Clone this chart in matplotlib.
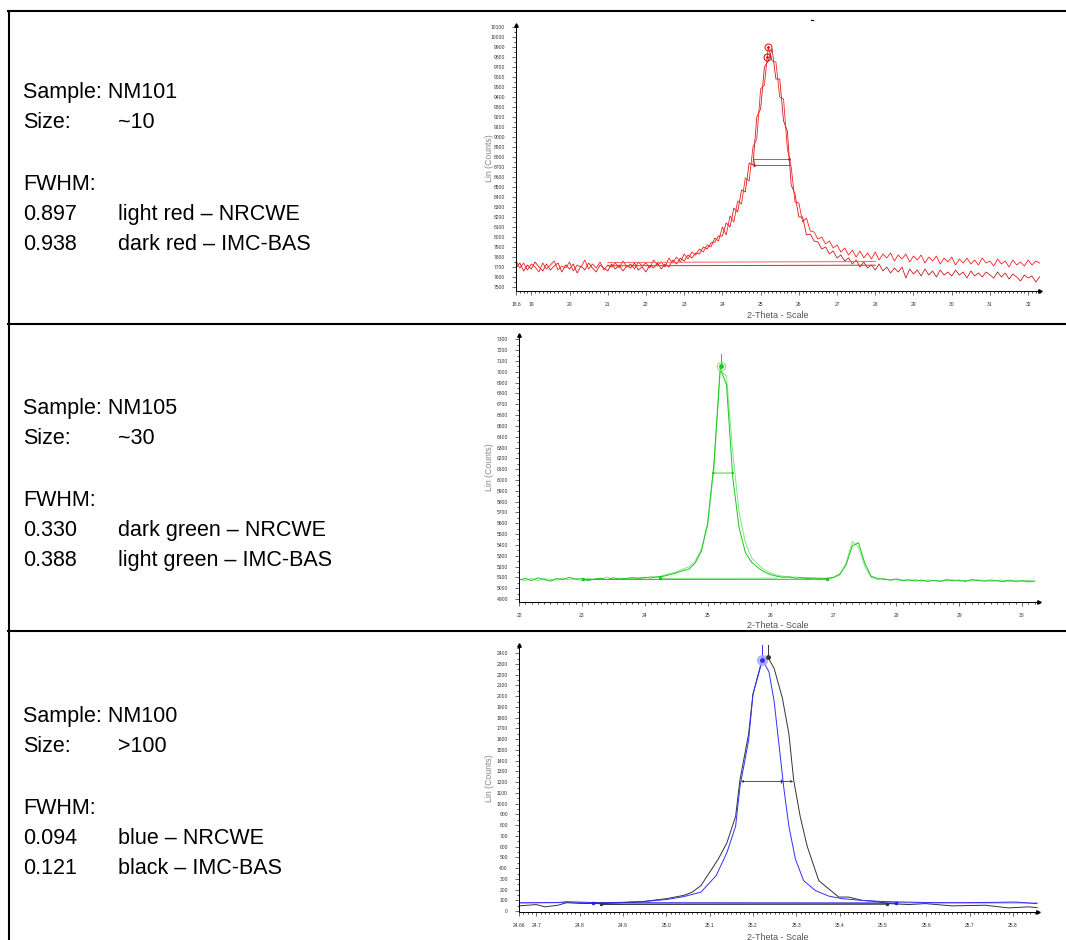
import numpy as np
import matplotlib
matplotlib.use('Agg')
import matplotlib.pyplot as plt
from matplotlib.ticker import MultipleLocator, FixedLocator

plt.rcParams['font.family'] = ['Liberation Sans', 'DejaVu Sans']

# ---- table text ----
samples = ['NM101', 'NM105', 'NM100']
sizes = ['~10', '~30', '>100']
fwhm_vals = [['0.897', '0.938'], ['0.330', '0.388'], ['0.094', '0.121']]
fwhm_desc = [['light red \u2013 NRCWE', 'dark red \u2013 IMC-BAS'],
             ['dark green \u2013 NRCWE', 'light green \u2013 IMC-BAS'],
             ['blue \u2013 NRCWE', 'black \u2013 IMC-BAS']]

# ---- NM101 (red), 2-theta 18.6 .. 32.3 step 0.1 ----
red_light = [7760, 7690, 7740, 7670, 7730, 7700, 7650, 7740, 7680, 7720,
             7760, 7670, 7710, 7690, 7750, 7660, 7720, 7700, 7770, 7680,
             7730, 7690, 7750, 7670, 7720, 7700, 7740, 7690, 7760, 7700,
             7730, 7680, 7750, 7710, 7740, 7690, 7770, 7720, 7750, 7700,
             7790, 7740, 7800, 7750, 7830, 7780, 7850, 7820, 7880, 7850,
             7920, 7900, 7990, 7960, 8100, 8020, 8210, 8150, 8360, 8330,
             8590, 8560, 8900, 8980, 9480, 9520, 9900, 9760, 9750, 9400,
             9380, 8880, 8700, 8350, 8340, 8150, 8190, 8060, 8050, 7980,
             8000, 7930, 7960, 7890, 7920, 7850, 7890, 7820, 7870, 7800,
             7860, 7790, 7840, 7780, 7850, 7770, 7830, 7790, 7840, 7760,
             7820, 7780, 7830, 7750, 7810, 7770, 7820, 7740, 7800, 7760,
             7810, 7730, 7790, 7750, 7800, 7720, 7780, 7740, 7790, 7730,
             7770, 7720, 7790, 7740, 7760, 7710, 7780, 7730, 7760, 7700,
             7770, 7720, 7750, 7710, 7770, 7720, 7760, 7740]
red_dark = [7690, 7740, 7660, 7720, 7680, 7750, 7700, 7660, 7730, 7670,
            7710, 7740, 7650, 7720, 7680, 7730, 7640, 7710, 7670, 7740,
            7690, 7650, 7720, 7690, 7660, 7730, 7680, 7720, 7660, 7710,
            7690, 7740, 7670, 7700, 7650, 7720, 7690, 7740, 7680, 7730,
            7700, 7770, 7730, 7790, 7760, 7820, 7790, 7840, 7830, 7900,
            7880, 7940, 7950, 8010, 8010, 8140, 8100, 8290, 8250, 8470,
            8450, 8740, 8720, 9200, 9280, 9700, 9760, 9880, 9580, 9580,
            9160, 9060, 8520, 8430, 8200, 8200, 8020, 8030, 7960, 7950,
            7880, 7900, 7830, 7860, 7790, 7820, 7760, 7790, 7730, 7770,
            7700, 7750, 7690, 7720, 7670, 7730, 7660, 7700, 7640, 7690,
            7650, 7700, 7590, 7680, 7630, 7670, 7610, 7680, 7620, 7660,
            7600, 7670, 7620, 7650, 7610, 7670, 7620, 7650, 7590, 7660,
            7610, 7640, 7600, 7650, 7620, 7590, 7650, 7600, 7640, 7580,
            7630, 7600, 7560, 7620, 7590, 7610, 7550, 7600]

# ---- NM105 (green), 2-theta 22.0 .. 30.2 step 0.1 ----
green_dark = [5075, 5090, 5070, 5095, 5080, 5065, 5090, 5078, 5100, 5082,
              5088, 5070, 5085, 5092, 5078, 5096, 5084, 5090, 5098, 5086,
              5100, 5094, 5105, 5110, 5125, 5140, 5160, 5175, 5230, 5340,
              5600, 6150, 7030, 6880, 6020, 5560, 5330, 5240, 5190, 5150,
              5125, 5110, 5100, 5105, 5092, 5098, 5088, 5095, 5085, 5092,
              5100, 5130, 5210, 5390, 5420, 5230, 5110, 5090, 5082, 5076,
              5085, 5070, 5078, 5066, 5074, 5062, 5072, 5065, 5078, 5068,
              5074, 5062, 5080, 5070, 5064, 5076, 5068, 5060, 5074, 5062,
              5070, 5058, 5066]
green_light = [5085, 5070, 5092, 5068, 5088, 5080, 5072, 5095, 5076, 5090,
               5070, 5094, 5078, 5084, 5102, 5080, 5093, 5082, 5090, 5100,
               5092, 5108, 5100, 5118, 5135, 5150, 5175, 5195, 5250, 5360,
               5580, 6100, 7010, 6960, 6250, 5700, 5420, 5280, 5220, 5170,
               5140, 5120, 5110, 5098, 5104, 5090, 5100, 5086, 5096, 5084,
               5095, 5120, 5230, 5430, 5380, 5200, 5100, 5080, 5090, 5072,
               5080, 5076, 5068, 5080, 5064, 5076, 5070, 5060, 5072, 5078,
               5064, 5072, 5066, 5078, 5072, 5060, 5070, 5074, 5058, 5068,
               5064, 5072, 5060]

# ---- NM100 (blue / black) ----
black_x = [24.66, 24.70, 24.72, 24.75, 24.77, 24.80, 24.85, 24.90, 24.95, 25.00,
           25.04, 25.06, 25.08, 25.09, 25.11, 25.12, 25.14, 25.16, 25.17, 25.19,
           25.20, 25.22, 25.235, 25.249, 25.268, 25.283, 25.294, 25.309, 25.325, 25.352,
           25.375, 25.398, 25.421, 25.452, 25.483, 25.513, 25.56, 25.598, 25.66, 25.736,
           25.79, 25.836, 25.856]
black_y = [49, 61, 40, 55, 79, 72, 70, 80, 91, 116,
           146, 177, 238, 300, 422, 484, 637, 882, 1220, 1649,
           2017, 2323, 2360, 2257, 1981, 1649, 1220, 882, 606, 284,
           207, 131, 131, 100, 91, 70, 61, 70, 49, 55,
           30, 40, 33]
blue_x = [24.66, 24.70, 24.75, 24.77, 24.80, 24.85, 24.90, 24.95, 25.00, 25.04,
          25.08, 25.115, 25.14, 25.16, 25.17, 25.19, 25.20, 25.222, 25.237, 25.249,
          25.26, 25.272, 25.283, 25.298, 25.317, 25.344, 25.375, 25.406, 25.452, 25.49,
          25.544, 25.621, 25.698, 25.76, 25.805, 25.855]
blue_y = [76, 78, 80, 88, 84, 78, 82, 90, 108, 135,
          177, 330, 545, 790, 1158, 1588, 2017, 2338, 2226, 1950,
          1551, 1121, 790, 484, 284, 192, 140, 116, 100, 91,
          85, 79, 79, 82, 85, 70]

RED_L, RED_D = '#ff2020', '#c81a1a'
GRN_D, GRN_L = '#1fc41f', '#7fe87f'
BLUE, BLACK = '#3030ff', '#333333'

W, H = 1066, 940
fig = plt.figure(figsize=(W / 100, H / 100), dpi=100)

# background axes in pixel coordinates for the table
bg = fig.add_axes([0, 0, 1, 1])
bg.set_xlim(0, W)
bg.set_ylim(H, 0)
bg.axis('off')
lw_tab = 1.5
bg.plot([8, W], [11, 11], color='black', lw=lw_tab)
bg.plot([8, W], [323.5, 323.5], color='black', lw=lw_tab)
bg.plot([8, W], [631, 631], color='black', lw=lw_tab)
bg.plot([9, 9], [11, H], color='black', lw=lw_tab)
bg.plot([811, 813], [20, 20], color='black', lw=0.8)

row_off = [0, 316, 624]
base = [97.7, 128, 190, 220, 250]
for i in range(3):
    o = row_off[i]
    kw = dict(fontsize=15.5, va='baseline', ha='left', color='black')
    bg.text(23, base[0] + o, 'Sample: ' + samples[i], **kw)
    bg.text(23, base[1] + o, 'Size:', **kw)
    bg.text(118, base[1] + o, sizes[i], **kw)
    bg.text(23, base[2] + o, 'FWHM:', **kw)
    for j in range(2):
        bg.text(23, base[3 + j] + o, fwhm_vals[i][j], **kw)
        bg.text(118, base[3 + j] + o, fwhm_desc[i][j], **kw)


def px_axes(left, right, bottom, top):
    return fig.add_axes([left / W, (H - bottom) / H, (right - left) / W, (bottom - top) / H])


def style(ax, xlim, ylim, xticks, xlabels, xminor, yticks, yminor):
    ax.set_xlim(*xlim)
    ax.set_ylim(*ylim)
    ax.patch.set_alpha(0)
    for s in ['top', 'right']:
        ax.spines[s].set_visible(False)
    for s in ['left', 'bottom']:
        ax.spines[s].set_linewidth(0.7)
    ax.xaxis.set_major_locator(FixedLocator(xticks))
    ax.set_xticklabels(xlabels)
    ax.xaxis.set_minor_locator(MultipleLocator(xminor))
    ax.yaxis.set_major_locator(FixedLocator(yticks))
    ax.set_yticklabels([str(v) for v in yticks])
    ax.yaxis.set_minor_locator(MultipleLocator(yminor))
    ax.tick_params(which='major', length=3, width=0.5, labelsize=3.6, pad=5,
                   colors='#333333', direction='out')
    ax.tick_params(which='minor', length=1.6, width=0.5, direction='out')
    ax.plot(1, 0, '>', color='black', ms=2.5, transform=ax.transAxes, clip_on=False)
    ax.plot(0, 1, '^', color='black', ms=2.5, transform=ax.transAxes, clip_on=False)


def labels(xc, y_xlab, yc):
    fig.text(xc / W, 1 - y_xlab / H, '2-Theta - Scale', fontsize=6.5, color='#555555',
             ha='center', va='center')
    fig.text(490 / W, 1 - yc / H, 'Lin (Counts)', fontsize=6.3, color='#888888',
             ha='center', va='center', rotation=90)


# ---------- red chart ----------
ax1 = px_axes(516, 1040, 291, 25)
rx = np.linspace(18.6, 32.3, len(red_light))
ax1.plot(rx, red_dark, color=RED_D, lw=0.6)
ax1.plot(rx, red_light, color=RED_L, lw=0.6)
ax1.plot([21.0, 28.0], [7745, 7755], color='#ff6060', lw=0.7)
ax1.plot([21.0, 28.0], [7712, 7718], color='#d03030', lw=0.7)
ax1.plot([24.82, 25.74], [8783, 8783], color=RED_L, lw=0.6)
ax1.plot([24.84, 25.76], [8723, 8723], color='#d02020', lw=0.6)
ax1.plot([24.82, 24.84], [8783, 8723], color=RED_D, lw=0.6)
ax1.plot([24.84, 25.74], [8723, 8783], ls='none', marker='.', ms=2, color=RED_D)
ax1.plot([25.2], [9900], marker='o', mfc='none', mec=RED_L, ms=5, mew=0.8)
ax1.plot([25.17], [9800], marker='o', mfc='none', mec=RED_D, ms=5, mew=0.8)
ax1.plot([25.2, 25.17], [9900, 9800], ls='none', marker='.', ms=2, color=RED_D)
style(ax1, (18.6, 32.31), (7460, 10120),
      [18.6] + list(range(19, 33)), ['18.6'] + [str(v) for v in range(19, 33)], 0.1,
      list(range(7500, 10101, 100)), 50)
labels(778, 316, 158)

# ---------- green chart ----------
ax2 = px_axes(519, 1039, 602, 335)
gx = np.linspace(22.0, 30.2, len(green_dark))
ax2.plot(gx, green_light, color=GRN_L, lw=0.7)
ax2.plot(gx, green_dark, color=GRN_D, lw=0.7)
ax2.plot([23.02, 26.9], [5080, 5082], color=GRN_D, lw=0.7)
ax2.plot([24.24, 26.1], [5090, 5092], color=GRN_L, lw=0.7)
ax2.plot([23.02, 24.24, 26.9], [5080, 5090, 5082], ls='none', marker='.', ms=3, color=GRN_D)
ax2.annotate('', xy=(25.06, 6064), xytext=(25.43, 6064),
             arrowprops=dict(arrowstyle='<|-|>', color=GRN_D, lw=0.6,
                             mutation_scale=3, shrinkA=0, shrinkB=0))
ax2.plot([25.22, 25.22], [7040, 7160], color=GRN_D, lw=0.7)
ax2.plot([25.22], [7050], marker='o', mfc='none', mec=GRN_L, ms=6, mew=0.8)
ax2.plot([25.22], [7050], marker='o', color=GRN_D, ms=2.5)
style(ax2, (22.0, 30.27), (4872, 7340),
      list(range(22, 31)), [str(v) for v in range(22, 31)], 0.1,
      list(range(4900, 7301, 100)), 50)
labels(778, 625, 467)

# ---------- blue chart ----------
ax3 = px_axes(519, 1038, 912, 645)
ax3.plot([24.66, 25.858], [80, 76], color='#8c8cff', lw=0.8)
ax3.plot(black_x, black_y, color=BLACK, lw=0.7)
ax3.plot(blue_x, blue_y, color=BLUE, lw=0.7)
ax3.plot([24.83, 25.53], [76, 74], color='#2020d0', lw=0.7)
ax3.plot([24.85, 25.51], [62, 64], color=BLACK, lw=0.7)
ax3.plot([24.83, 25.53], [76, 74], ls='none', marker='.', ms=3, color='#2020d0')
ax3.plot([24.85, 25.51], [62, 64], ls='none', marker='.', ms=3, color=BLACK)
ax3.annotate('', xy=(25.172, 1207), xytext=(25.293, 1207),
             arrowprops=dict(arrowstyle='<|-|>', color=BLACK, lw=0.6,
                             mutation_scale=3, shrinkA=0, shrinkB=0))
ax3.plot([25.265], [1207], marker='|', color=BLUE, ms=3)
ax3.plot([25.222, 25.222], [2338, 2476], color=BLUE, lw=0.7)
ax3.plot([25.235, 25.235], [2360, 2476], color=BLACK, lw=0.7)
ax3.plot([25.222], [2338], marker='o', color='#a8a8ff', ms=7, alpha=0.8)
ax3.plot([25.222], [2338], marker='o', color=BLUE, ms=2.5)
ax3.plot([25.235], [2360], marker='o', color=BLACK, ms=2.5)
bx_ticks = [24.66] + [round(24.7 + 0.1 * k, 1) for k in range(12)]
style(ax3, (24.66, 25.858), (-8, 2476),
      bx_ticks, ['24.66'] + ['%.1f' % v for v in bx_ticks[1:]], 0.01,
      list(range(0, 2401, 100)), 50)
labels(778, 937, 778)

fig.savefig('out.png', dpi=100)
